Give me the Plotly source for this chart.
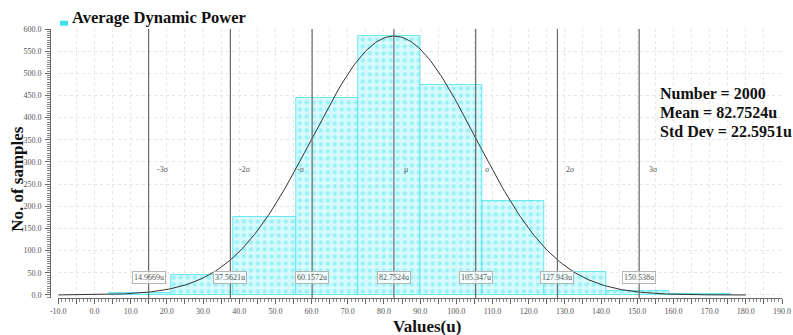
import numpy as np
import plotly.graph_objects as go

# ---- data ----
BIN_EDGES = [4.12, 21.3, 38.48, 55.66, 72.84, 90.02, 107.2, 124.38, 141.56, 158.74, 175.92]
COUNTS = [4, 45, 175, 444, 585, 473, 213, 51, 8, 2]
N_SAMPLES = 2000
MEAN = 82.7524
STD = 22.5951
PEAK = 584  # height of the fitted normal curve at the mean
SIGMA_VALUES = [14.9669, 37.5621, 60.1572, 82.7524, 105.347, 127.943, 150.538]
SIGMA_NAMES = ["-3σ", "-2σ", "-σ", "μ", "σ", "2σ", "3σ"]
SIGMA_LABEL_X = [19.0, 41.5, 57.0, 86.0, 108.5, 131.5, 154.5]
X_TICKS = list(range(-10, 191, 5))
Y_TICKS = list(range(0, 601, 50))
CURVE_X = np.linspace(-10, 180, 400)

SERIF = "Liberation Serif, Times New Roman, serif"

centers = [(a + b) / 2 for a, b in zip(BIN_EDGES[:-1], BIN_EDGES[1:])]
widths = [b - a for a, b in zip(BIN_EDGES[:-1], BIN_EDGES[1:])]
curve_y = PEAK * np.exp(-0.5 * ((CURVE_X - MEAN) / STD) ** 2)

fig = go.Figure()
fig.add_trace(go.Bar(
    x=centers, y=COUNTS, width=widths,
    marker=dict(
        color="rgba(205,249,252,0.8)",
        line=dict(color="rgba(90,230,240,0.9)", width=1),
        pattern=dict(shape=".", fgcolor="rgba(40,222,236,0.7)", size=7,
                     solidity=0.3, fillmode="overlay"),
    ),
    showlegend=False, hoverinfo="skip",
))
fig.add_trace(go.Scatter(
    x=CURVE_X, y=curve_y, mode="lines",
    line=dict(color="#333333", width=1), showlegend=False, hoverinfo="skip",
))

# sigma lines
for v in SIGMA_VALUES:
    fig.add_shape(type="line", x0=v, x1=v, y0=0, y1=1, xref="x", yref="paper",
                  line=dict(color="#6a6a6a", width=1.2), layer="above")

for v, name, lx in zip(SIGMA_VALUES, SIGMA_NAMES, SIGMA_LABEL_X):
    fig.add_annotation(x=lx, y=284, xref="x", yref="y", text=name, showarrow=False,
                       xanchor="center", yanchor="middle",
                       font=dict(family=SERIF, size=8, color="#555555"))
    fig.add_annotation(x=v, y=39, xref="x", yref="y", text=f"{v}u", showarrow=False,
                       xanchor="center", yanchor="middle",
                       font=dict(family=SERIF, size=8, color="#555555"),
                       bgcolor="rgba(255,255,255,0.75)", bordercolor="#b5b5b5",
                       borderwidth=1, borderpad=1)

# legend-like title
fig.add_shape(type="rect", x0=0.0137, x1=0.0246, y0=1.012, y1=1.031,
              xref="paper", yref="paper", fillcolor="#3fe3ee", line=dict(width=0))
fig.add_annotation(x=0.0273, y=(298 - 18) / 268.7, xref="paper", yref="paper",
                   text="<b>Average Dynamic Power</b>", showarrow=False,
                   xanchor="left", yanchor="middle",
                   font=dict(family=SERIF, size=16.5, color="#111111"))

# stats
stats = [f"Number = {N_SAMPLES}", f"Mean = {MEAN}u", f"Std Dev = {STD}u"]
for i, s in enumerate(stats):
    fig.add_annotation(x=(658 - 50) / 732, y=(298 - (94 + 19 * i)) / 268.7,
                       xref="paper", yref="paper", text=f"<b>{s}</b>", showarrow=False,
                       xanchor="left", yanchor="middle",
                       font=dict(family=SERIF, size=16, color="#111111"))

# axis titles
fig.add_annotation(x=(18 - 50) / 732, y=(298 - 179) / 268.7, xref="paper", yref="paper",
                   text="<b>No. of samples</b>", showarrow=False, textangle=-90,
                   xanchor="center", yanchor="middle",
                   font=dict(family=SERIF, size=17, color="#111111"))
fig.add_annotation(x=(427 - 50) / 732, y=(298 - 326) / 268.7, xref="paper", yref="paper",
                   text="<b>Values(u)</b>", showarrow=False,
                   xanchor="center", yanchor="middle",
                   font=dict(family=SERIF, size=17, color="#111111"))

x_text = [f"{v:.1f}" if v % 10 == 0 else "" for v in X_TICKS]
y_text = [f"{v:.1f}" for v in Y_TICKS]

fig.update_layout(
    width=793, height=335,
    margin=dict(l=50, r=11, t=29, b=37, autoexpand=False),
    paper_bgcolor="white", plot_bgcolor="white",
    bargap=0,
    xaxis=dict(
        domain=[0.0113, 1], range=[-10, 190], automargin=False,
        tickmode="array", tickvals=X_TICKS, ticktext=x_text,
        ticks="outside", ticklen=5, tickcolor="#666", tickwidth=1,
        minor=dict(tickmode="linear", tick0=0, dtick=1, ticks="outside",
                   ticklen=3, tickcolor="#888", showgrid=False),
        showgrid=True, gridcolor="#e6e6e6", griddash="dot", gridwidth=1,
        showline=True, linecolor="#666", linewidth=1,
        zeroline=False,
        tickfont=dict(family=SERIF, size=8, color="#555555"),
    ),
    yaxis=dict(
        anchor="free", position=0, range=[-6.8, 600], automargin=False,
        tickmode="array", tickvals=Y_TICKS, ticktext=y_text,
        ticks="outside", ticklen=5, tickcolor="#666", tickwidth=1,
        minor=dict(tickmode="linear", tick0=0, dtick=5, ticks="outside",
                   ticklen=3, tickcolor="#888", showgrid=False),
        showgrid=True, gridcolor="#e6e6e6", griddash="dot", gridwidth=1,
        showline=True, linecolor="#666", linewidth=1,
        zeroline=False, ticklabelstandoff=2,
        tickfont=dict(family=SERIF, size=8, color="#555555"),
    ),
)

fig.write_html("out.html")
